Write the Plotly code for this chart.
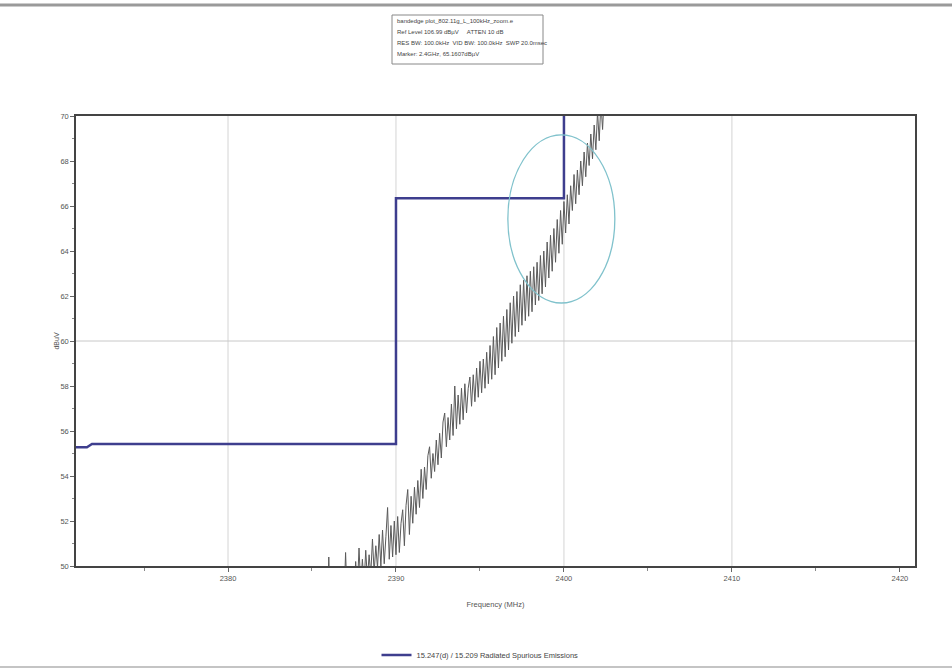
import plotly.graph_objects as go

# Limit line: 15.247(d) / 15.209 radiated spurious emission limit
limit_freq = [2370.95, 2371.6, 2371.9, 2390.0, 2390.0, 2400.0, 2400.0]
limit_level = [55.28, 55.28, 55.42, 55.42, 66.35, 66.35, 72.0]

# Measured sweep (MHz, dBuV)
sweep_freq = [
    2385.8, 2385.9, 2386.0, 2386.1, 2386.2, 2386.3, 2386.4, 2386.5, 2386.6, 2386.7,
    2386.8, 2386.9, 2387.0, 2387.1, 2387.2, 2387.3, 2387.4, 2387.5, 2387.6, 2387.7,
    2387.8, 2387.9, 2388.0, 2388.1, 2388.2, 2388.3, 2388.4, 2388.5, 2388.6, 2388.7,
    2388.8, 2388.9, 2389.0, 2389.1, 2389.2, 2389.3, 2389.4, 2389.5, 2389.6, 2389.7,
    2389.8, 2389.9, 2390.0, 2390.1, 2390.2, 2390.3, 2390.4, 2390.5, 2390.6, 2390.7,
    2390.8, 2390.9, 2391.0, 2391.1, 2391.2, 2391.3, 2391.4, 2391.5, 2391.6, 2391.7,
    2391.8, 2391.9, 2392.0, 2392.1, 2392.2, 2392.3, 2392.4, 2392.5, 2392.6, 2392.7,
    2392.8, 2392.9, 2393.0, 2393.1, 2393.2, 2393.3, 2393.4, 2393.5, 2393.6, 2393.7,
    2393.8, 2393.9, 2394.0, 2394.1, 2394.2, 2394.3, 2394.4, 2394.5, 2394.6, 2394.7,
    2394.8, 2394.9, 2395.0, 2395.1, 2395.2, 2395.3, 2395.4, 2395.5, 2395.6, 2395.7,
    2395.8, 2395.9, 2396.0, 2396.1, 2396.2, 2396.3, 2396.4, 2396.5, 2396.6, 2396.7,
    2396.8, 2396.9, 2397.0, 2397.1, 2397.2, 2397.3, 2397.4, 2397.5, 2397.6, 2397.7,
    2397.8, 2397.9, 2398.0, 2398.1, 2398.2, 2398.3, 2398.4, 2398.5, 2398.6, 2398.7,
    2398.8, 2398.9, 2399.0, 2399.1, 2399.2, 2399.3, 2399.4, 2399.5, 2399.6, 2399.7,
    2399.8, 2399.9, 2400.0, 2400.1, 2400.2, 2400.3, 2400.4, 2400.5, 2400.6, 2400.7,
    2400.8, 2400.9, 2401.0, 2401.1, 2401.2, 2401.3, 2401.4, 2401.5, 2401.6, 2401.7,
    2401.8, 2401.9, 2402.0, 2402.1, 2402.2, 2402.3, 2402.4,
]
sweep_level = [
    48.2, 47.5, 50.4, 47.9, 48.9, 47.6, 48.8, 48.0, 49.2, 48.1,
    49.4, 48.3, 50.6, 48.4, 49.6, 48.6, 50.0, 48.8, 50.2, 49.0,
    50.8, 49.1, 50.3, 49.2, 50.7, 49.4, 50.5, 49.6, 51.2, 49.7,
    50.9, 49.9, 51.4, 50.0, 51.6, 50.1, 51.3, 52.6, 50.3, 51.8,
    50.4, 52.0, 50.5, 52.2, 50.6, 51.9, 52.5, 50.9, 52.7, 53.4,
    51.4, 53.1, 51.9, 53.5, 52.3, 53.8, 52.6, 54.3, 53.0, 54.4,
    53.4, 54.9, 55.3, 53.9, 55.0, 54.2, 55.6, 54.5, 55.9, 54.8,
    56.4, 56.8, 55.3, 56.6, 55.6, 57.2, 55.8, 58.0, 56.1, 57.6,
    56.3, 57.9, 56.5, 58.1, 56.8, 57.9, 58.4, 57.1, 58.5, 57.3,
    58.8, 57.5, 59.1, 57.7, 59.2, 57.9, 59.5, 58.1, 59.8, 58.3,
    60.2, 58.5, 60.6, 58.8, 60.8, 59.1, 61.1, 59.3, 61.4, 59.6,
    61.7, 59.9, 62.0, 60.2, 62.2, 60.4, 62.5, 60.7, 62.7, 60.9,
    62.9, 61.1, 63.1, 61.3, 63.3, 61.6, 63.5, 61.8, 63.8, 62.1,
    64.0, 62.4, 64.4, 62.8, 64.7, 63.1, 65.0, 63.5, 65.4, 63.9,
    65.8, 64.3, 66.2, 64.8, 66.5, 65.2, 66.9, 65.8, 67.4, 66.1,
    67.6, 66.5, 68.0, 66.9, 68.4, 67.3, 68.8, 67.8, 69.2, 68.1,
    69.6, 68.5, 70.2, 68.9, 70.6, 69.4, 71.0,
]

# Axis ticks and grid
x_tick_vals = [2380, 2390, 2400, 2410, 2420]
x_tick_text = ["2380", "2390", "2400", "2410", "2420"]
y_tick_vals = [50, 52, 54, 56, 58, 60, 62, 64, 66, 68, 70]
x_grid = [2380, 2390, 2400, 2410]
y_grid = [60]

# Marker region highlight (ellipse bounds)
ring_x = [2396.66, 2403.03]
ring_y = [61.69, 69.16]

header_lines = [
    "bandedge plot_802.11g_L_100kHz_zoom.e",
    "Ref Level 106.99 dBµV     ATTEN 10 dB",
    "RES BW: 100.0kHz  VID BW: 100.0kHz  SWP 20.0msec",
    "Marker: 2.4GHz, 65.1607dBµV",
]

FONT = "Liberation Sans Narrow, Arial Narrow, Liberation Sans, sans-serif"
LIMIT_COLOR = "#3e3e8e"
TRACE_COLOR = "#5a5a5a"
TEXT_COLOR = "#555555"
W, H = 952, 671
M_L, M_R, M_T, M_B = 76, 37, 116, 105

fig = go.Figure()

fig.add_trace(go.Scatter(
    x=sweep_freq, y=sweep_level, mode="lines",
    line=dict(color=TRACE_COLOR, width=1),
    showlegend=False, hoverinfo="skip",
))

fig.add_trace(go.Scatter(
    x=limit_freq, y=limit_level, mode="lines",
    line=dict(color=LIMIT_COLOR, width=2.5),
    name="15.247(d) / 15.209 Radiated Spurious Emissions",
))


# helpers turning page pixels into paper coordinates
def px_x(x):
    return (x - M_L) / (W - M_L - M_R)


def px_y(y):
    return (H - M_B - y) / (H - M_B - M_T)


shapes = []
for gx in x_grid:
    shapes.append(dict(type="line", xref="x", yref="paper", x0=gx, x1=gx, y0=0, y1=1,
                       line=dict(color="#d4d4d4", width=1), layer="below"))
for gy in y_grid:
    shapes.append(dict(type="line", xref="paper", yref="y", x0=0, x1=1, y0=gy, y1=gy,
                       line=dict(color="#c8c8c8", width=1), layer="below"))
shapes.append(dict(type="circle", xref="x", yref="y",
                   x0=ring_x[0], x1=ring_x[1], y0=ring_y[0], y1=ring_y[1],
                   line=dict(color="#80c2cc", width=1.3)))
# page frame lines and header box
shapes.append(dict(type="line", xref="paper", yref="paper", x0=px_x(0), x1=px_x(W),
                   y0=px_y(5), y1=px_y(5), line=dict(color="#9a9a9a", width=3)))
shapes.append(dict(type="line", xref="paper", yref="paper", x0=px_x(0), x1=px_x(W),
                   y0=px_y(667), y1=px_y(667), line=dict(color="#b0b0b0", width=1.5)))
shapes.append(dict(type="rect", xref="paper", yref="paper",
                   x0=px_x(392), x1=px_x(543), y0=px_y(64), y1=px_y(15),
                   line=dict(color="#888888", width=1), fillcolor="white"))

annotations = []
for i, txt in enumerate(header_lines):
    annotations.append(dict(
        xref="paper", yref="paper",
        x=px_x(395), y=px_y(21 + i * 11),
        xanchor="left", yanchor="middle", showarrow=False,
        text=txt, font=dict(family=FONT, size=6, color="#444444"),
    ))

fig.update_layout(
    width=W, height=H,
    margin=dict(l=M_L, r=M_R, t=M_T, b=M_B),
    paper_bgcolor="white", plot_bgcolor="white",
    font=dict(family=FONT, size=7, color=TEXT_COLOR),
    shapes=shapes, annotations=annotations,
    legend=dict(orientation="h", xref="container", yref="container",
                x=480 / W, xanchor="center", y=1 - 655 / H, yanchor="middle",
                font=dict(family=FONT, size=7.5, color="#444444"),
                bgcolor="rgba(0,0,0,0)"),
    xaxis=dict(
        range=[2370.95, 2420.9], tickvals=x_tick_vals, ticktext=x_tick_text,
        showgrid=False, zeroline=False, automargin=False,
        showline=True, linecolor="#444444", linewidth=1.5, mirror=True,
        ticks="outside", ticklen=4, tickcolor="#666666",
        minor=dict(dtick=5, tick0=2375, ticks="outside", ticklen=3, tickcolor="#888888"),
        tickfont=dict(family=FONT, size=7.5, color=TEXT_COLOR),
        title=dict(text="Frequency (MHz)", font=dict(family=FONT, size=7.5, color=TEXT_COLOR), standoff=20),
    ),
    yaxis=dict(
        range=[50, 70], tickvals=y_tick_vals,
        showgrid=False, zeroline=False, automargin=False,
        showline=True, linecolor="#444444", linewidth=1.5, mirror=True,
        ticks="outside", ticklen=4, tickcolor="#666666",
        minor=dict(dtick=1, tick0=50, ticks="outside", ticklen=2, tickcolor="#888888"),
        tickfont=dict(family=FONT, size=7.5, color=TEXT_COLOR),
        title=dict(text="dBuV", font=dict(family=FONT, size=7, color=TEXT_COLOR), standoff=0),
    ),
)

fig.write_html("out.html")
